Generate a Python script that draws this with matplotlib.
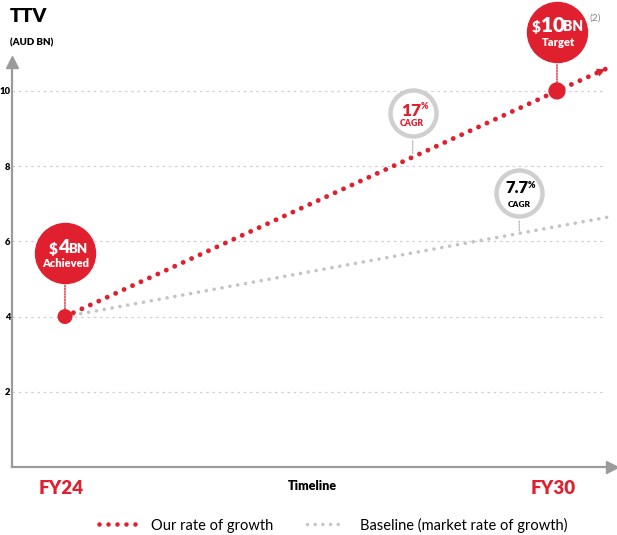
import matplotlib
matplotlib.use("Agg")
import matplotlib.pyplot as plt
from matplotlib.lines import Line2D
from matplotlib import transforms

# ---- data ----
tick_years = [2024, 2030]
tick_labels = ["FY24", "FY30"]
y_ticks = [2, 4, 6, 8, 10]
our_x = [2024, 2030, 2030.62]
our_y = [4, 10, 10.61]
base_x = [2024, 2030.71]
base_y = [4, 6.68]
milestone_x = [2024, 2030]
milestone_y = [4, 10]
cagr_our_x = 2028.24
cagr_base_x = 2029.54

RED = "#E0202E"
GRAY_DOT = "#C4C4C4"
AXIS = "#9B9B9B"
FONT = "Lato"

W, H = 617, 535
fig = plt.figure(figsize=(W / 100, H / 100), dpi=100)
fig.patch.set_facecolor("white")
ax = fig.add_axes([12 / W, (H - 467) / H, 600 / W, 405 / H])
ax.set_xlim(2023.354, 2030.671)
ax.set_ylim(0, 10.77)

for s in ["top", "right"]:
    ax.spines[s].set_visible(False)
for s in ["left", "bottom"]:
    ax.spines[s].set_color(AXIS)
    ax.spines[s].set_linewidth(1.6)
ax.plot([0], [1], marker="^", color=AXIS, markersize=8, transform=ax.transAxes, clip_on=False)
ax.plot([1], [0], marker=">", color=AXIS, markersize=8, transform=ax.transAxes, clip_on=False)

ax.set_yticks(y_ticks)
ax.set_yticklabels([str(v) for v in y_ticks], fontsize=6.8, fontweight="heavy", family=FONT)
ax.tick_params(axis="y", length=0, pad=1)
ax.set_xticks(tick_years)
ax.set_xticklabels(tick_labels, fontsize=13.5, fontweight="heavy", family=FONT, color=RED)
ax.tick_params(axis="x", length=0, pad=9)
for lab in ax.get_xticklabels():
    lab.set_transform(lab.get_transform() + transforms.Affine2D().translate(-4, 0))
for gy in y_ticks:
    ax.plot([2023.354, 2030.58], [gy, gy], color="#D0D0D0", lw=0.9, ls=(0, (2, 3)), zorder=1)

# baseline
ax.plot(base_x, base_y, color=GRAY_DOT, lw=2.6, ls=(0, (0.01, 2.2)), dash_capstyle="round", zorder=3)
ax.annotate("", xy=(base_x[-1], base_y[-1]), xytext=(base_x[-1] - 0.12, base_y[-1] - 0.12 * 0.41),
            arrowprops=dict(arrowstyle="-|>", color=GRAY_DOT, lw=0, mutation_scale=14), zorder=3)
# our rate
ax.plot(our_x, our_y, color=RED, lw=3.5, ls=(0, (0.01, 1.9)), dash_capstyle="round", zorder=4)
ax.annotate("", xy=(our_x[-1], our_y[-1]), xytext=(our_x[-1] - 0.12, our_y[-1] - 0.12),
            arrowprops=dict(arrowstyle="-|>", color=RED, lw=0, mutation_scale=15), zorder=4)

ax.scatter(milestone_x, milestone_y, s=[95, 130], color=RED, zorder=6)


def off(dx, dy):
    return transforms.offset_copy(ax.transData, fig=fig, x=dx, y=dy, units="dots")


def bubble(x, y, dy, kind):
    tr = off(0, dy)
    if kind == "red":
        r = 30
        ax.annotate("", xy=(x, y), xytext=(0, dy - r), textcoords="offset pixels",
                    arrowprops=dict(arrowstyle="-", color=RED, lw=1, ls=(0, (1, 1))), zorder=5)
        ax.scatter([x], [y], s=(2 * r * 0.72) ** 2, color=RED, transform=tr, zorder=7, clip_on=False)
    else:
        r = 25
        ax.annotate("", xy=(x, y), xytext=(0, dy - r), textcoords="offset pixels",
                    arrowprops=dict(arrowstyle="-", color="#BDBDBD", lw=1, ls=(0, (1, 1))), zorder=5)
        ax.scatter([x], [y], s=(2 * (r - 2) * 0.72) ** 2, facecolor="white", edgecolor="#CFCFCF",
                   linewidth=3.2, transform=tr, zorder=7, clip_on=False)


def txt(x, y, dx, dy, s, size, color, ha="center", weight="heavy"):
    ax.text(x, y, s, transform=off(dx, dy), fontsize=size, color=color, ha=ha, va="center",
            fontweight=weight, family=FONT, zorder=8, clip_on=False)


# $4BN Achieved
bubble(2024, 4, 64, "red")
txt(2024, 4, -16, 68, "$", 11, "white", ha="left")
txt(2024, 4, -7, 69, "4", 14, "white", ha="left")
txt(2024, 4, 3, 68, "BN", 9.5, "white", ha="left")
txt(2024, 4, 1, 53, "Achieved", 8, "white")

# $10BN Target
bubble(2030, 10, 59, "red")
txt(2030, 10, -25, 64, "$", 11, "white", ha="left")
txt(2030, 10, -16, 65, "10", 15, "white", ha="left")
txt(2030, 10, 6, 64, "BN", 10, "white", ha="left")
txt(2030, 10, 2, 48, "Target", 8, "white")
txt(2030, 10, 33, 73, "(2)", 7.5, "#888888", ha="left", weight="normal")

# 17% CAGR
y17 = 4 + (cagr_our_x - 2024) * (10 - 4) / 6
bubble(cagr_our_x, y17, 44, "ring")
txt(cagr_our_x, y17, -11, 46, "17", 12.5, RED, ha="left")
txt(cagr_our_x, y17, 8, 51, "%", 6.5, RED, ha="left")
txt(cagr_our_x, y17, -1, 34, "CAGR", 6.3, RED)

# 7.7% CAGR
y77 = base_y[0] + (cagr_base_x - base_x[0]) * (base_y[1] - base_y[0]) / (base_x[1] - base_x[0])
bubble(cagr_base_x, y77, 40, "ring")
txt(cagr_base_x, y77, -14, 45, "7.7", 12, "black", ha="left")
txt(cagr_base_x, y77, 8, 48, "%", 6.5, "black", ha="left")
txt(cagr_base_x, y77, 0, 29, "CAGR", 6, "black")

# titles
fig.text(10 / W, 1 - 16 / H, "TTV", fontsize=14, fontweight="heavy", family=FONT, va="center")
fig.text(10 / W, 1 - 43 / H, "(AUD BN)", fontsize=7, fontweight="heavy", family=FONT, va="center")
fig.text(312 / W, 1 - 486 / H, "Timeline", fontsize=9, fontweight="heavy", family=FONT,
         ha="center", va="center")

handles = [
    Line2D([], [], color=RED, lw=3.3, ls=(0, (0.01, 1.95)), dash_capstyle="round"),
    Line2D([], [], color=GRAY_DOT, lw=2.5, ls=(0, (0.01, 2.2)), dash_capstyle="round"),
]
leg = fig.legend(handles, ["Our rate of growth", "Baseline (market rate of growth)"],
                 loc="center", bbox_to_anchor=(333 / W, 1 - 525 / H), ncol=2, frameon=False,
                 prop=dict(family=FONT, size=10.5), handlelength=2.6, columnspacing=2.3,
                 handletextpad=1.0)

fig.savefig("out.png", dpi=100)
